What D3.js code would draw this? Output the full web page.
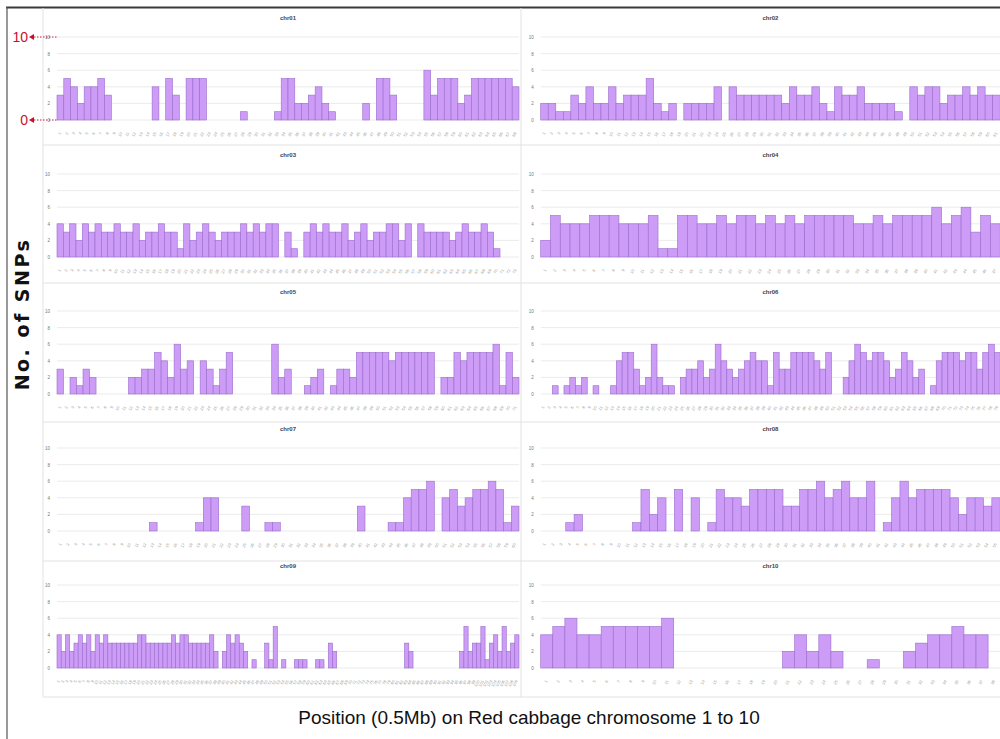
<!DOCTYPE html>
<html>
<head>
<meta charset="utf-8">
<script src="https://cdn.jsdelivr.net/npm/d3@7"></script>
<style>
  body { margin: 0; background: #fff; }
  svg { display: block; font-family: "Liberation Sans", Arial, sans-serif; }
</style>
</head>
<body>
<svg id="chart"></svg>
<script>
// SNP counts per 0.5 Mb bin, one array per chromosome
const chrNames = ["chr01", "chr02", "chr03", "chr04", "chr05", "chr06", "chr07", "chr08", "chr09", "chr10"];

const chr01 = [3,5,4,2,4,4,5,3,0,0, 0,0,0,0,4,0,5,3,0,5, 5,5,0,0,0,0,0,1,0,0,
  0,0,1,5,5,2,2,3,4,2, 1,0,0,0,0,2,0,5,5,3, 0,0,0,0,6,3,5,5,5,2, 3,5,5,5,5,5,5,4];
const chr02 = [2,2,1,1,3,2,4,2,2,4, 2,3,3,3,5,2,1,2,0,2, 2,2,2,4,0,4,3,3,3,3,
  3,3,2,4,3,3,4,2,1,4, 3,3,4,2,2,2,2,1,0,4, 3,4,4,2,3,3,4,3,4,3, 3];
const chr03 = [4,3,4,2,4,3,4,3,3,4, 3,3,4,2,3,3,4,3,3,1, 4,2,3,4,3,2,3,3,3,4,
  3,4,3,4,4,0,3,1,0,3, 4,3,4,3,3,4,2,3,4,2, 3,3,4,4,2,4,0,4,3,3, 3,3,2,3,4,3,3,4,3,1, 0,0,0];
const chr04 = [2,5,4,4,4,5,5,5,4,4, 4,5,1,1,5,5,4,4,5,4, 5,5,4,5,4,5,4,5,5,5,
  5,5,4,4,5,4,5,5,5,5, 6,4,5,6,3,5,4];
const chr05 = [3,0,2,1,3,2,0,0,0,0, 0,2,2,3,3,5,4,2,6,3, 4,0,4,3,1,3,5,0,0,0,
  0,0,0,6,2,3,0,0,1,2, 3,0,1,3,3,2,5,5,5,5, 5,4,5,5,5,5,5,5,0,2, 2,5,4,5,5,5,5,6,1,5, 2];
const chr06 = [0,0,1,0,1,2,1,2,0,1, 0,0,1,4,5,5,3,1,2,6, 2,1,1,0,2,3,3,4,2,3,
  6,4,3,2,3,4,5,4,4,1, 5,3,3,5,5,5,5,4,3,5, 0,0,2,4,6,5,4,5,5,4, 2,3,5,4,2,3,0,1,4,5,
  5,5,4,5,5,3,5,6,5];
const chr07 = [0,0,0,0,0,0,0,0,0,0, 0,0,1,0,0,0,0,0,1,4, 4,0,0,0,3,0,0,1,1,0,
  0,0,0,0,0,0,0,0,0,3, 0,0,0,1,1,4,5,5,6,0, 4,5,3,4,5,5,6,5,1,3];
const chr08 = [0,0,0,1,2,0,0,0,0,0, 0,1,5,2,4,0,5,0,4,0, 1,5,4,4,3,5,5,5,5,3,
  3,5,5,6,4,5,6,4,4,6, 0,1,4,6,4,5,5,5,5,4, 2,4,4,3,4];
const chr09 = [4,2,4,2,3,4,3,4,2,4, 3,4,3,3,3,3,3,3,3,4, 4,3,3,3,3,3,3,4,3,4,
  4,3,3,3,3,3,4,2,0,2, 4,3,4,3,2,0,1,0,0,3, 1,5,0,1,0,0,1,1,1,0, 0,1,1,0,3,2,0,0,0,0,
  0,0,0,0,0,0,0,0,0,0, 0,0,3,2,0,0,0,0,0,0, 0,0,0,0,0,2,5,2,3,3, 5,1,3,4,2,5,2,3,4];
const chr10 = [4,5,6,4,4,5,5,5,5,5, 6,0,0,0,0,0,0,0,0,0, 2,4,2,4,2,0,0,1,0,0,
  2,3,4,4,5,4,4,0];

const yTicks = [0, 2, 4, 6, 8, 10];
const xTitle = "Position (0.5Mb) on Red cabbage chromosome 1 to 10";
const yTitle = "No. of SNPs";

const counts = [chr01, chr02, chr03, chr04, chr05, chr06, chr07, chr08, chr09, chr10];

const width = 1000, height = 739;
const svg = d3.select("#chart").attr("width", width).attr("height", height);

// layout of the 5 x 2 grid of panels
const colX = [57, 540.7], plotW = [462, 459.5];
const rowBase = [120, 257, 394, 531, 668], plotH = 83;

// outer frame and panel dividers
svg.append("line").attr("x1", 6).attr("x2", width).attr("y1", 7.5).attr("y2", 7.5)
    .attr("stroke", "#3a3a3a").attr("stroke-width", 2);
svg.append("line").attr("x1", 7).attr("x2", 7).attr("y1", 7).attr("y2", height)
    .attr("stroke", "#555").attr("stroke-width", 1.2);
[145, 283, 422, 561, 697].forEach(yy => {
    svg.append("line").attr("x1", 43).attr("x2", width).attr("y1", yy).attr("y2", yy)
        .attr("stroke", "#e2e2e2").attr("stroke-width", 1);
});
[43, 521].forEach(xx => {
    svg.append("line").attr("x1", xx).attr("x2", xx).attr("y1", 8).attr("y2", 697)
        .attr("stroke", "#e2e2e2").attr("stroke-width", 1);
});

let firstY = null;

counts.forEach((data, i) => {
    const col = i % 2, row = Math.floor(i / 2);
    const g = svg.append("g")
        .attr("transform", `translate(${colX[col]},${rowBase[row] - plotH})`);

    const x = d3.scaleBand()
        .domain(d3.range(data.length))
        .range([0, plotW[col]])
        .padding(0);
    const y = d3.scaleLinear().domain([0, 10]).range([plotH, 0]);
    if (i === 0) firstY = y;

    // gridlines
    g.selectAll(".grid")
        .data(yTicks)
        .join("line")
        .attr("class", "grid")
        .attr("x1", 0).attr("x2", plotW[col])
        .attr("y1", d => y(d)).attr("y2", d => y(d))
        .attr("stroke", "#e6e6e6").attr("stroke-width", 0.8);

    // bars
    g.selectAll(".bar")
        .data(data.map((v, k) => ({ k, v })).filter(d => d.v > 0))
        .join("rect")
        .attr("class", "bar")
        .attr("x", d => x(d.k))
        .attr("y", d => y(d.v))
        .attr("width", x.bandwidth())
        .attr("height", d => plotH - y(d.v))
        .attr("fill", "#cc9cf7")
        .attr("stroke", "#9a6ccc")
        .attr("stroke-width", 0.6);

    // y axis
    const ya = g.append("g")
        .call(d3.axisLeft(y).tickValues(yTicks).tickSize(0).tickPadding(7));
    ya.select(".domain").remove();
    ya.selectAll("text").attr("font-size", 4.5).attr("fill", "#777");

    // x axis with tiny slanted labels
    const xa = g.append("g")
        .attr("transform", `translate(0,${plotH})`)
        .call(d3.axisBottom(x).tickSize(0).tickPadding(0).tickFormat(k => (k + 1)));
    xa.select(".domain").remove();
    xa.selectAll("text")
        .attr("font-size", 4)
        .attr("fill", "#999")
        .attr("text-anchor", "end")
        .attr("dy", 0)
        .attr("transform", "translate(1,13) rotate(-62)");

    // panel title
    g.append("text")
        .attr("x", plotW[col] / 2)
        .attr("y", -17)
        .attr("text-anchor", "middle")
        .attr("font-size", 6)
        .attr("font-weight", "bold")
        .attr("fill", "#444")
        .text(chrNames[i]);
});

// red scale annotation next to chr01
const red = "#c8102e";
[10, 0].forEach(v => {
    const yy = rowBase[0] - plotH + firstY(v);
    svg.append("text")
        .attr("x", v === 10 ? 28 : 28)
        .attr("y", yy + 5)
        .attr("text-anchor", "end")
        .attr("font-size", 14)
        .attr("fill", red)
        .text(v);
    svg.append("path")
        .attr("d", `M29,${yy} l5,-3 l0,6 z`)
        .attr("fill", red);
    svg.append("line")
        .attr("x1", 34).attr("x2", 57).attr("y1", yy).attr("y2", yy)
        .attr("stroke", red).attr("stroke-width", 1)
        .attr("stroke-dasharray", "1.5,1.5");
});

// axis titles
svg.append("text")
    .attr("transform", "translate(29,314) rotate(-90)")
    .attr("text-anchor", "middle")
    .attr("font-family", "DejaVu Sans, sans-serif")
    .attr("font-size", 19)
    .attr("font-weight", "bold")
    .attr("letter-spacing", 2.5)
    .attr("fill", "#111")
    .text(yTitle);

svg.append("text")
    .attr("x", 529)
    .attr("y", 724)
    .attr("text-anchor", "middle")
    .attr("font-size", 19)
    .attr("fill", "#111")
    .text(xTitle);
</script>
</body>
</html>
